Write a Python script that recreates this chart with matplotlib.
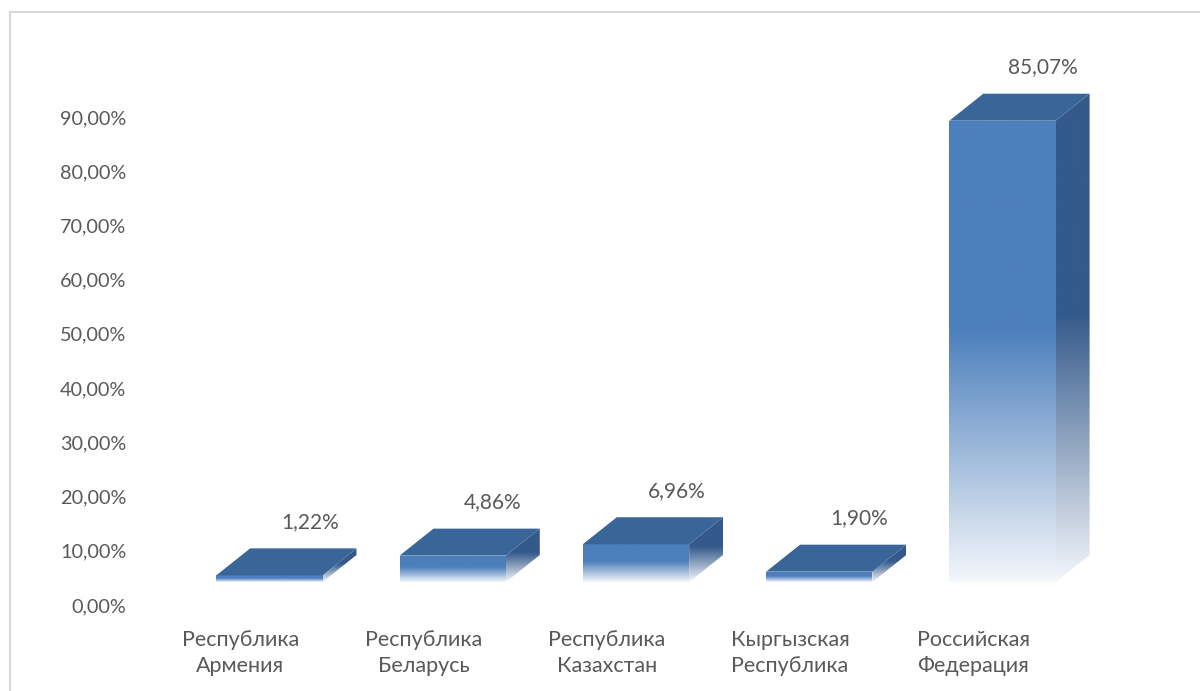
import numpy as np
import matplotlib.pyplot as plt
from matplotlib.patches import Polygon, Rectangle
from matplotlib.colors import to_rgb

# Data
categories = ['Республика\nАрмения', 'Республика\nБеларусь', 'Республика\nКазахстан',
              'Кыргызская\nРеспублика', 'Российская\nФедерация']
shares = [1.22, 4.86, 6.96, 1.90, 85.07]
yticks = [0, 10, 20, 30, 40, 50, 60, 70, 80, 90]

plt.rcParams['font.family'] = ['Lato', 'DejaVu Sans']
text_color = '#595959'

fig = plt.figure(figsize=(12, 6.91), dpi=100)
ax = fig.add_axes([0.11, 0.1245, 0.84, 0.7847])

# 3D look parameters (axis units)
half_w = 0.29
dx, dy = 0.185, 4.98
base = 4.24

front_top = np.array(to_rgb('#4c7fbc'))
side_top = np.array(to_rgb('#34598a'))
top_col = '#3a6598'
fade = np.array(to_rgb('#f4f7fb'))


def grad_face(verts, c_top, y0, y1, solid=0.45):
    poly = Polygon(verts, closed=True, facecolor='none', edgecolor='none')
    ax.add_patch(poly)
    t = np.linspace(0, 1, 256)[:, None]  # 0 = top
    w = np.clip((t - solid) / (1 - solid), 0, 1)
    img = c_top[None, :] * (1 - w) + fade[None, :] * w
    img = np.repeat(img[:, None, :], 2, axis=1)
    xs = [v[0] for v in verts]
    im = ax.imshow(img, extent=[min(xs), max(xs), y0, y1], aspect='auto',
                   origin='upper', zorder=2, interpolation='bilinear')
    im.set_clip_path(poly)


for i, v in enumerate(shares):
    xl, xr = i - half_w, i + half_w
    top = base + v
    # front face
    grad_face([(xl, base), (xr, base), (xr, top), (xl, top)], front_top, base, top)
    # side face
    grad_face([(xr, base), (xr + dx, base + dy), (xr + dx, top + dy), (xr, top)],
              side_top, base, top + dy)
    # top face
    ax.add_patch(Polygon([(xl, top), (xr, top), (xr + dx, top + dy), (xl + dx, top + dy)],
                         closed=True, facecolor=top_col, edgecolor='none', zorder=3))
    label = f'{v:.2f}'.replace('.', ',') + '%'
    ax.annotate(label, (i + 0.22, top + dy), xytext=(0, 19), textcoords='offset points',
                ha='center', va='center', fontsize=15, color=text_color)

ax.set_xlim(-0.75, 4.75)
ax.set_ylim(0, 100)
ax.set_yticks(yticks)
ax.set_yticklabels([f'{t:.2f}'.replace('.', ',') + '%' for t in yticks])
ax.set_xticks([i - 0.16 for i in range(len(categories))])
ax.set_xticklabels(categories, linespacing=1.35)
ax.tick_params(axis='both', length=0, labelcolor=text_color)
ax.tick_params(axis='y', pad=4, labelsize=14.3)
ax.tick_params(axis='x', pad=18, labelsize=15.5)
for s in ax.spines.values():
    s.set_visible(False)
ax.set_facecolor('none')

# chart frame
fig.patches.append(Rectangle((10 / 1200, -0.1), 1.2, (691 - 12) / 691 + 0.1,
                             transform=fig.transFigure, fill=False,
                             edgecolor='#d9d9d9', linewidth=1.5))

fig.savefig('out.png', dpi=100)
